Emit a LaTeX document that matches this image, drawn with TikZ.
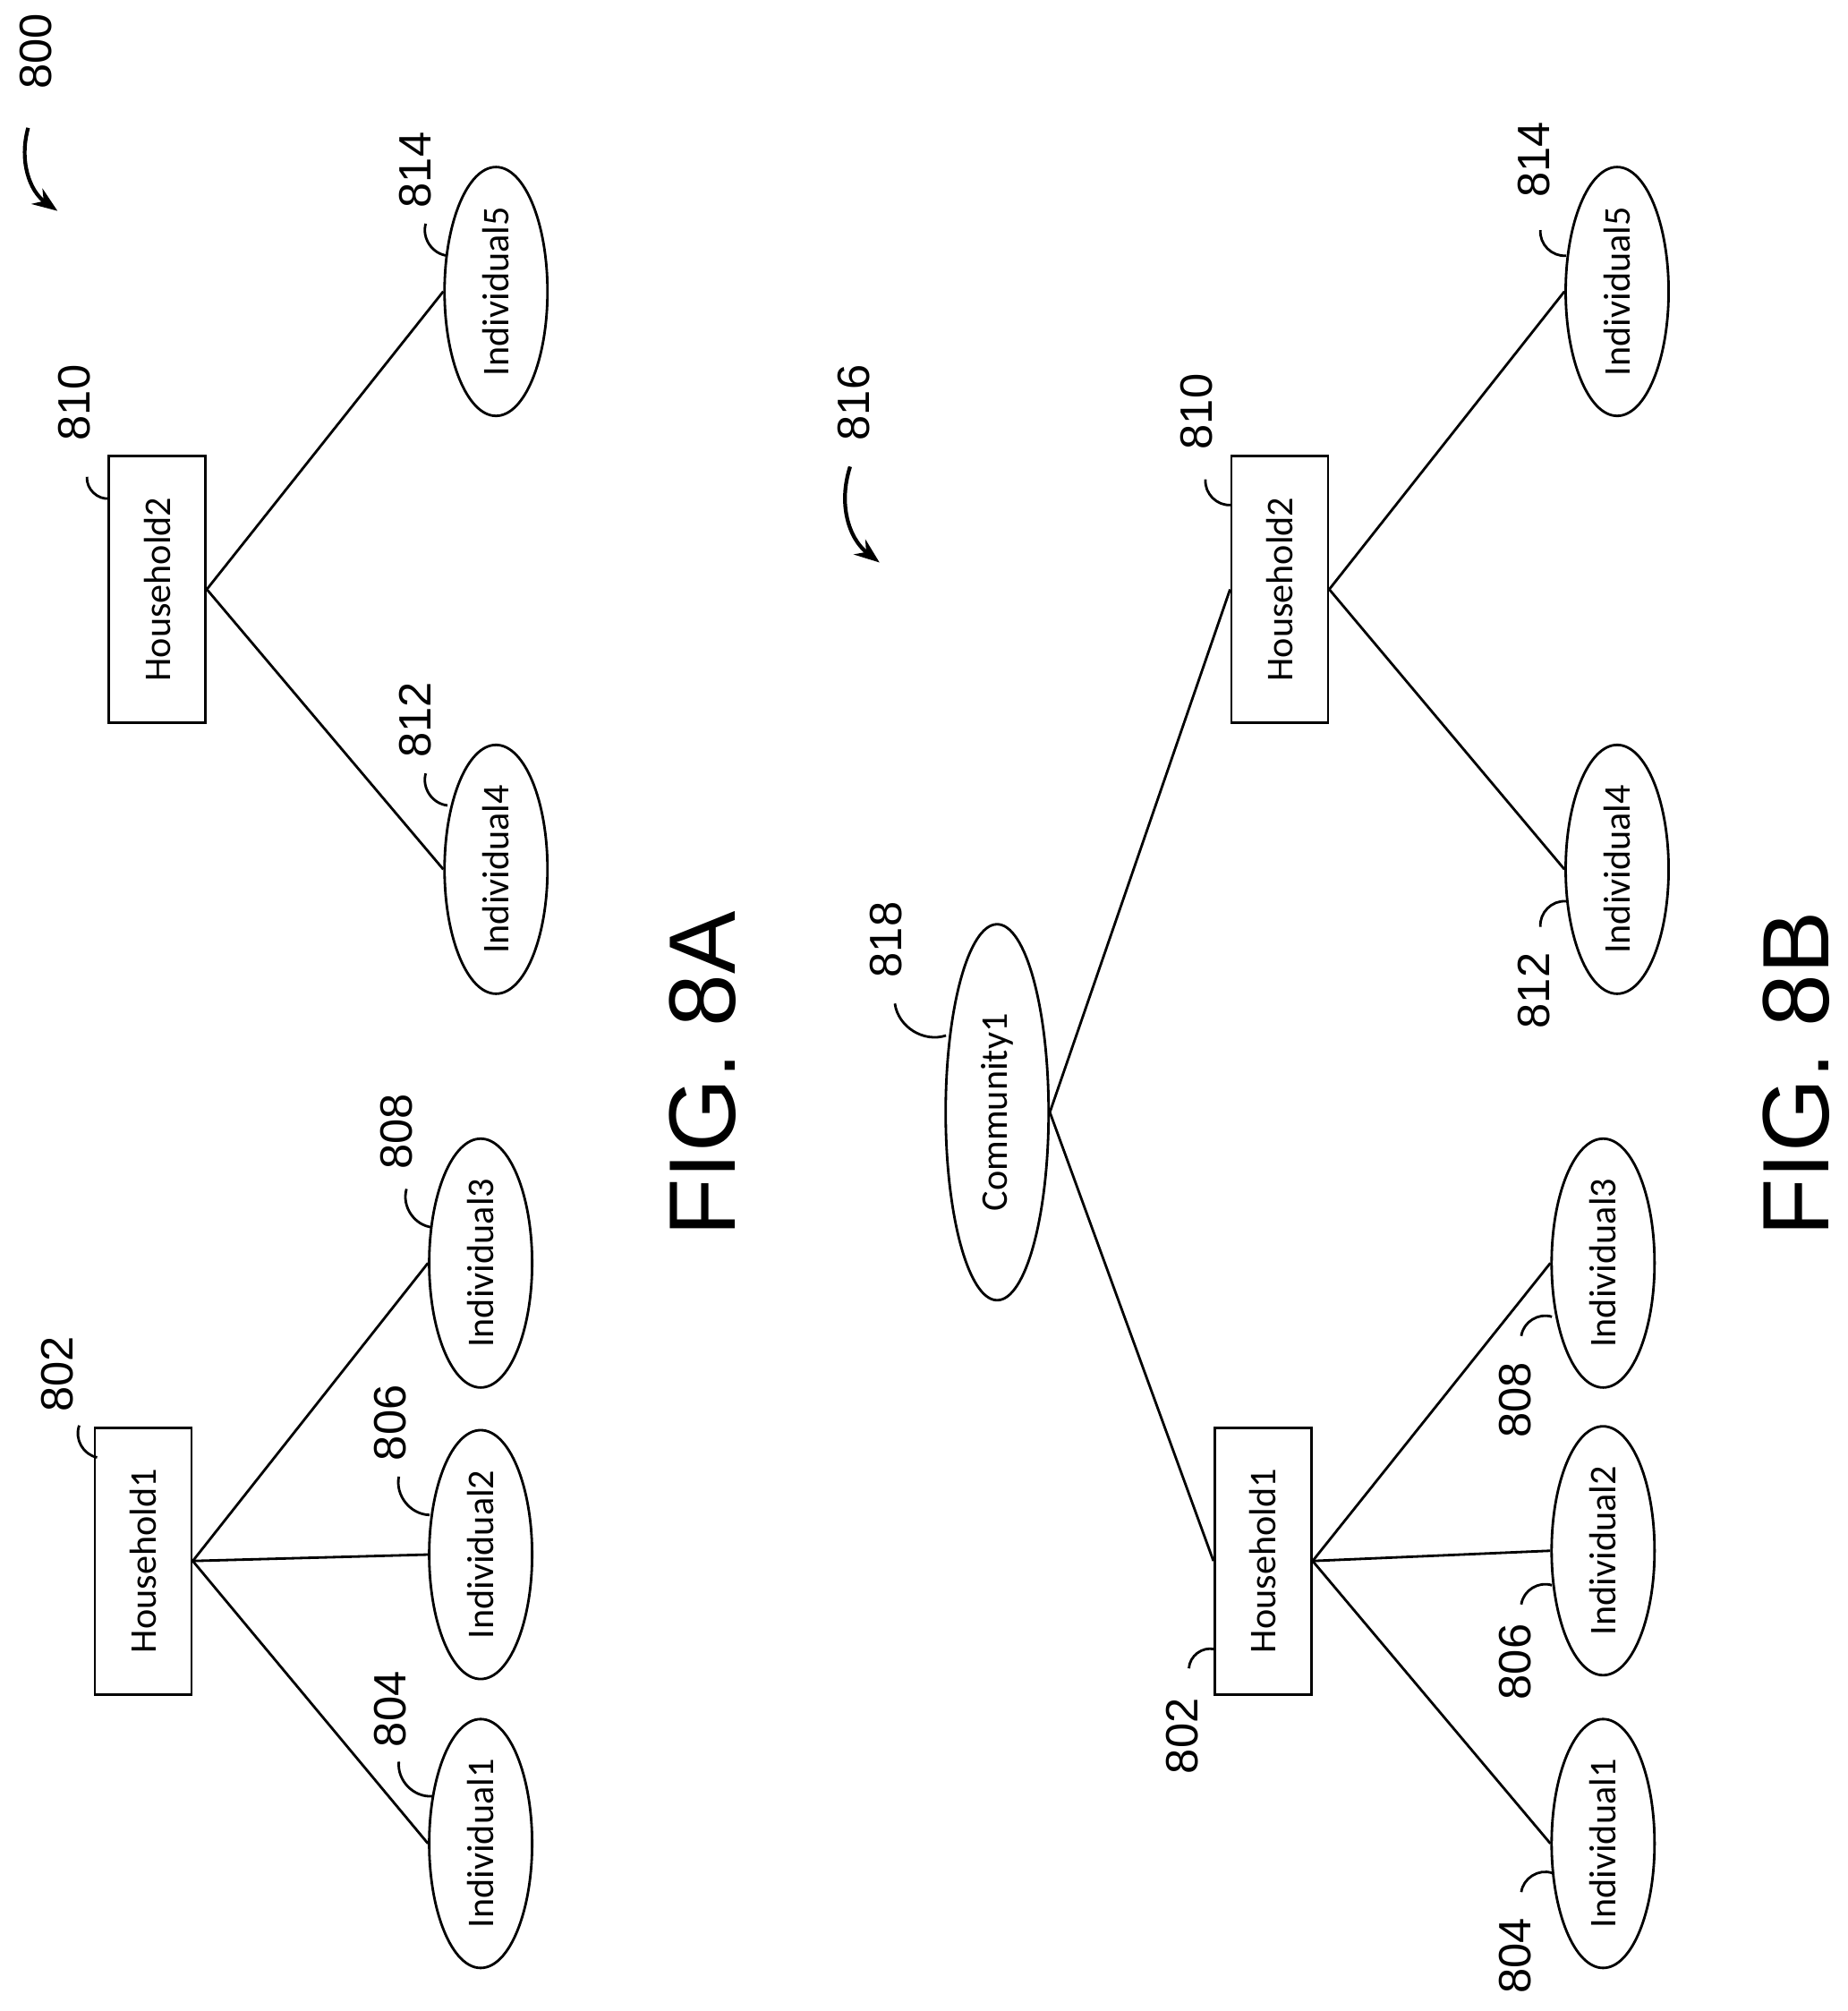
\documentclass[tikz,border=0pt]{standalone}
\usepackage{fontspec}
\setmainfont{Liberation Sans}
\newfontfamily\nodefont{Carlito}
\usetikzlibrary{shapes.geometric,arrows.meta}

\begin{document}
\begin{tikzpicture}[x=0.01428cm, y=0.01428cm, line width=0.8pt,
  box/.style={draw, rectangle, rotate=90, minimum width=2.98cm, minimum height=1.08cm, font=\nodefont\large},
  ind/.style={draw, ellipse, rotate=90, minimum width=2.78cm, minimum height=1.15cm, inner sep=0pt, font=\nodefont\large},
  com/.style={draw, ellipse, rotate=90, minimum width=4.2cm, minimum height=1.15cm, inner sep=0pt, font=\nodefont\large},
  num/.style={rotate=90, font=\Large},
  lead/.style={line width=0.8pt},
  callout/.style={line width=1.2pt, -{Stealth[length=8pt]}}]
  \useasboundingbox (0,0) rectangle (1445,1573);

  % FIG. 8A
  \node[box] (h1) at (112,352) {Household1};
  \node[box] (h2) at (123,1112) {Household2};
  \node[ind] (i1) at (376,131) {Individual1};
  \node[ind] (i2) at (376,357) {Individual2};
  \node[ind] (i3) at (376,585) {Individual3};
  \node[ind] (i4) at (388,893) {Individual4};
  \node[ind] (i5) at (388,1345) {Individual5};

  \draw (h1.south) -- (i1.north);
  \draw (h1.south) -- (i2.north);
  \draw (h1.south) -- (i3.north);
  \draw (h2.south) -- (i4.north);
  \draw (h2.south) -- (i5.north);

  \node[num] (n800) at (28,1533) {800};
  \node[num] (n802) at (45,498) {802};
  \node[num] (n810) at (58,1258) {810};
  \node[num] (n804) at (305,236) {804};
  \node[num] (n806) at (305,460) {806};
  \node[num] (n808) at (310,688) {808};
  \node[num] (n812) at (325,1010) {812};
  \node[num] (n814) at (325,1440) {814};

  \draw[lead] (62,458) to[bend right=50] (76,433);
  \draw[lead] (68,1200) to[bend right=50] (86,1183);
  \draw[lead] (312,195) to[bend right=50] (338,168);
  \draw[lead] (312,418) to[bend right=50] (336,388);
  \draw[lead] (318,643) to[bend right=50] (338,613);
  \draw[lead] (333,968) to[bend right=50] (350,943);
  \draw[lead] (333,1398) to[bend right=50] (350,1373);
  \draw[callout] (22,1473) to[bend right=35] (45,1408);

  \node[rotate=90, font=\fontsize{30}{34}\selectfont] (fa) at (550,733) {FIG. 8A};

  % FIG. 8B
  \node[com] (c1) at (780,703) {Community1};
  \node[box] (hb1) at (988,352) {Household1};
  \node[box] (hb2) at (1001,1112) {Household2};
  \node[ind] (ib1) at (1254,131) {Individual1};
  \node[ind] (ib2) at (1254,360) {Individual2};
  \node[ind] (ib3) at (1254,585) {Individual3};
  \node[ind] (ib4) at (1265,893) {Individual4};
  \node[ind] (ib5) at (1265,1345) {Individual5};

  \draw (c1.south) -- (hb1.north);
  \draw (c1.south) -- (hb2.north);
  \draw (hb1.south) -- (ib1.north);
  \draw (hb1.south) -- (ib2.north);
  \draw (hb1.south) -- (ib3.north);
  \draw (hb2.south) -- (ib4.north);
  \draw (hb2.south) -- (ib5.north);

  \node[num] (n816) at (668,1258) {816};
  \node[num] (n818) at (693,838) {818};
  \node[num] (m810) at (936,1251) {810};
  \node[num] (m814) at (1200,1448) {814};
  \node[num] (m812) at (1200,798) {812};
  \node[num] (m802) at (925,215) {802};
  \node[num] (m804) at (1185,43) {804};
  \node[num] (m806) at (1185,273) {806};
  \node[num] (m808) at (1185,478) {808};

  \draw[lead] (700,788) to[bend right=50] (740,763);
  \draw[lead] (943,1198) to[bend right=50] (963,1178);
  \draw[lead] (1205,1393) to[bend right=50] (1225,1373);
  \draw[lead] (1205,848) to[bend left=50] (1225,868);
  \draw[lead] (930,268) to[bend left=50] (950,283);
  \draw[lead] (1190,93) to[bend left=50] (1214,108);
  \draw[lead] (1190,318) to[bend left=50] (1214,333);
  \draw[lead] (1190,528) to[bend left=50] (1214,543);
  \draw[callout] (665,1208) to[bend right=35] (688,1133);

  \node[rotate=90, font=\fontsize{30}{34}\selectfont] (fb) at (1405,733) {FIG. 8B};
\end{tikzpicture}
\end{document}
